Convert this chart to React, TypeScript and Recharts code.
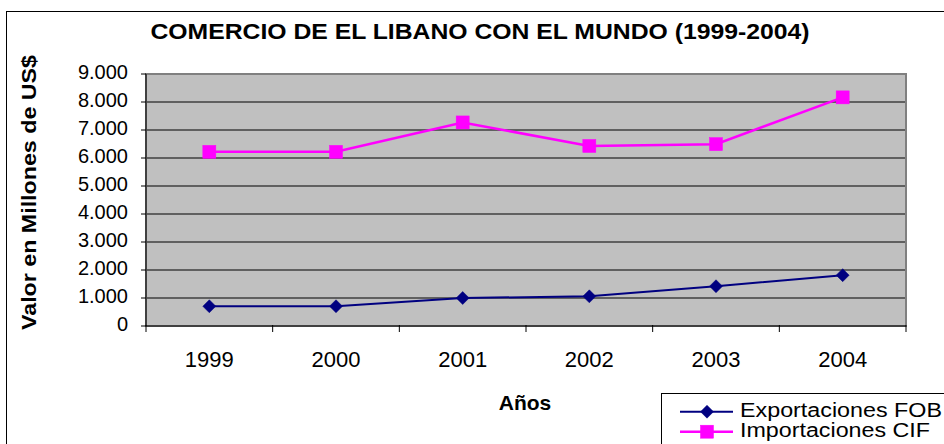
import React from 'react';
import {
  LineChart,
  Line,
  XAxis,
  YAxis,
  CartesianGrid,
  ReferenceArea,
  Legend,
} from 'recharts';

const years = ['1999', '2000', '2001', '2002', '2003', '2004'];
const exportaciones = [705, 705, 1000, 1060, 1420, 1815];
const importaciones = [6220, 6220, 7270, 6430, 6495, 8165];
const yTicks = [0, 1000, 2000, 3000, 4000, 5000, 6000, 7000, 8000, 9000];

const seriesNames = ['Exportaciones FOB', 'Importaciones CIF'];
const titleText = 'COMERCIO DE EL LIBANO CON EL MUNDO (1999-2004)';
const yLabelText = 'Valor en Millones de US$';
const xLabelText = 'Años';

const data = years.map((y, i) => ({
  year: y,
  exp: exportaciones[i],
  imp: importaciones[i],
}));

const FONT = '"Liberation Sans", Arial, sans-serif';
const W = 944;
const H = 444;
const M = { top: 74, right: 38, left: 0, bottom: 58 };
const Y_AXIS_W = 146;
const X_AXIS_H = 60;
const PLOT_W = W - M.left - M.right - Y_AXIS_W;
const BAND = PLOT_W / years.length;

const fmt = (v: number) =>
  v === 0 ? '0' : String(v).replace(/\B(?=(\d{3})+(?!\d))/g, '.');

const YTick = (props: any) => {
  const { x, y, payload } = props;
  return (
    <text x={x} y={y} dy={4.5} textAnchor="end" fontSize={20} fontFamily={FONT} fill="#000">
      {fmt(payload.value)}
    </text>
  );
};

const XTick = (props: any) => {
  const { x, y, payload, index } = props;
  const last = index === years.length - 1;
  const top = y - 2;
  return (
    <g>
      <line x1={x - BAND / 2} x2={x - BAND / 2} y1={top - 7} y2={top} stroke="#000" strokeWidth={1} />
      {last && (
        <line x1={x + BAND / 2} x2={x + BAND / 2} y1={top - 7} y2={top} stroke="#000" strokeWidth={1} />
      )}
      <text x={x} y={y} dy={33} textAnchor="middle" fontSize={22} fontFamily={FONT} fill="#000">
        {payload.value}
      </text>
    </g>
  );
};

const DiamondDot = (props: any) => {
  const { cx, cy } = props;
  if (cx == null || cy == null) return null;
  const r = 6.5;
  return (
    <polygon
      points={`${cx},${cy - r} ${cx + r},${cy} ${cx},${cy + r} ${cx - r},${cy}`}
      fill="#000080"
      stroke="#000080"
      strokeWidth={0.5}
    />
  );
};

const SquareDot = (props: any) => {
  const { cx, cy } = props;
  if (cx == null || cy == null) return null;
  const s = 13;
  return <rect x={cx - s / 2} y={cy - s / 2} width={s} height={s} fill="#FF00FF" stroke="#FF00FF" strokeWidth={0.5} />;
};

const legendColors = ['#000080', '#FF00FF'];
const legendLens = [202, 190];

const LegendBox = () => (
  <div
    style={{
      position: 'absolute',
      left: 661,
      top: 393,
      width: 320,
      height: 70,
      borderLeft: '1px solid #000',
      borderTop: '1px solid #000',
      background: '#fff',
    }}
  >
    <svg width={320} height={70} style={{ display: 'block', position: 'absolute', left: -1, top: -1 }}>
      {seriesNames.map((n, i) => {
        const ly = 18.7 + i * 20;
        return (
          <g key={n}>
            <line x1={19} x2={72} y1={ly} y2={ly} stroke={legendColors[i]} strokeWidth={i === 0 ? 2 : 2.5} />
            {i === 0 ? <DiamondDot cx={46} cy={ly} /> : <SquareDot cx={46} cy={ly} />}
            <text
              x={79}
              y={ly + 5}
              fontSize={19.5}
              fontFamily={FONT}
              fill="#000"
              textLength={legendLens[i]}
              lengthAdjust="spacingAndGlyphs"
            >
              {n}
            </text>
          </g>
        );
      })}
    </svg>
  </div>
);

export default function App() {
  return (
    <div
      style={{
        position: 'fixed',
        left: 0,
        top: 0,
        width: W,
        height: H,
        overflow: 'hidden',
        background: '#fff',
      }}
    >
      <div
        style={{
          position: 'absolute',
          left: 6,
          top: 11,
          width: 1200,
          height: 1200,
          border: '1px solid #000',
        }}
      />
      <div style={{ position: 'absolute', left: 0, top: 0 }}>
        <LineChart width={W} height={H} data={data} margin={M}>
          <CartesianGrid horizontal vertical={false} stroke="#000" fill="#C0C0C0" fillOpacity={1} />
          <ReferenceArea y1={0} y2={9000} fill="none" stroke="#808080" strokeWidth={2} ifOverflow="visible" />
          <XAxis
            dataKey="year"
            scale="band"
            height={X_AXIS_H}
            tickLine={false}
            tick={<XTick />}
            axisLine={{ stroke: '#000', strokeWidth: 1 }}
            interval={0}
          />
          <YAxis
            width={Y_AXIS_W}
            domain={[0, 9000]}
            ticks={yTicks}
            interval={0}
            tickSize={5}
            tickMargin={13}
            tick={<YTick />}
            tickLine={{ stroke: '#000' }}
            axisLine={{ stroke: '#000', strokeWidth: 1 }}
          />
          <Legend
            layout="horizontal"
            align="center"
            verticalAlign="middle"
            content={() => <LegendBox />}
            wrapperStyle={{ position: 'absolute', left: 0, top: 0, width: 0, height: 0 }}
          />
          <Line
            type="linear"
            dataKey="exp"
            name={seriesNames[0]}
            stroke="#000080"
            strokeWidth={2}
            dot={<DiamondDot />}
            activeDot={false}
            isAnimationActive={false}
          />
          <Line
            type="linear"
            dataKey="imp"
            name={seriesNames[1]}
            stroke="#FF00FF"
            strokeWidth={2.5}
            dot={<SquareDot />}
            activeDot={false}
            isAnimationActive={false}
          />
        </LineChart>
      </div>
      <svg
        width={W}
        height={H}
        style={{ position: 'absolute', left: 0, top: 0, pointerEvents: 'none' }}
      >
        <text
          x={480}
          y={38.7}
          textAnchor="middle"
          fontSize={22}
          fontWeight="bold"
          fontFamily={FONT}
          fill="#000"
          textLength={659}
          lengthAdjust="spacingAndGlyphs"
        >
          {titleText}
        </text>
        <text
          x={36}
          y={192.5}
          textAnchor="middle"
          transform="rotate(-90, 36, 192.5)"
          fontSize={21}
          fontWeight="bold"
          fontFamily={FONT}
          fill="#000"
          textLength={275}
          lengthAdjust="spacingAndGlyphs"
        >
          {yLabelText}
        </text>
        <text
          x={525}
          y={410}
          textAnchor="middle"
          fontSize={21}
          fontWeight="bold"
          fontFamily={FONT}
          fill="#000"
        >
          {xLabelText}
        </text>
      </svg>
    </div>
  );
}
